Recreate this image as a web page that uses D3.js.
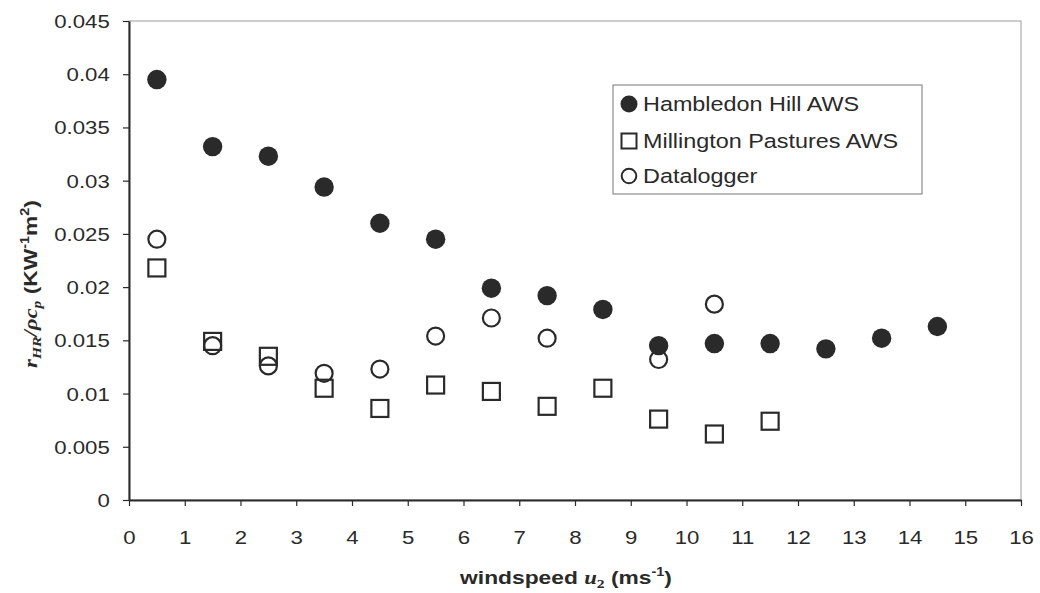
<!DOCTYPE html>
<html><head><meta charset="utf-8">
<script src="https://cdn.jsdelivr.net/npm/d3@7"></script>
<style>body{margin:0;background:#fff}svg{display:block}</style>
</head><body>
<svg id="c" width="1040" height="593"></svg>
<script>
const hambX = [0.5,1.5,2.5,3.5,4.5,5.5,6.5,7.5,8.5,9.5,10.5,11.5,12.5,13.5,14.5];
const hambY = [0.0395,0.0332,0.0323,0.0294,0.0260,0.0245,0.0199,0.0192,0.0179,0.0145,0.0147,0.0147,0.0142,0.0152,0.0163];
const millX = [0.5,1.5,2.5,3.5,4.5,5.5,6.5,7.5,8.5,9.5,10.5,11.5];
const millY = [0.0218,0.0149,0.0135,0.0105,0.0086,0.0108,0.0102,0.0088,0.0105,0.0076,0.0062,0.0074];
const dataX = [0.5,1.5,2.5,3.5,4.5,5.5,6.5,7.5,9.5,10.5];
const dataY = [0.0245,0.0145,0.0126,0.0119,0.0123,0.0154,0.0171,0.0152,0.0132,0.0184];
const xTicks = d3.range(0,17,1);
const yTicks = [0,0.005,0.01,0.015,0.02,0.025,0.03,0.035,0.04,0.045];
const legendNames = ["Hambledon Hill AWS","Millington Pastures AWS","Datalogger"];

const ink = "#2a2a2a";
const svg = d3.select("#c");
const L = 129, R = 1021, T = 21, B = 500;
const x = d3.scaleLinear().domain([0,16]).range([L,R]);
const y = d3.scaleLinear().domain([0,0.045]).range([B,T]);
const font = "'Liberation Sans', Arial, sans-serif";
const SX = 1.2;

// frame
svg.append("rect").attr("x",L).attr("y",T).attr("width",R-L).attr("height",B-T)
  .attr("fill","none").attr("stroke","#9a9a9a").attr("stroke-width",1);

const xa = svg.append("g").attr("transform",`translate(0,${B})`)
  .call(d3.axisBottom(x).tickValues(xTicks).tickFormat(d3.format("d")).tickSizeInner(6).tickSizeOuter(0).tickPadding(25));
const ya = svg.append("g").attr("transform",`translate(${L},0)`)
  .call(d3.axisLeft(y).tickValues(yTicks).tickFormat(d=>d===0?"0":String(+d.toFixed(3))).tickSizeInner(6).tickSizeOuter(0).tickPadding(10));
[xa,ya].forEach(a=>{
  a.selectAll("path").attr("stroke",ink).attr("stroke-width",2);
  a.selectAll("line").attr("stroke",ink).attr("stroke-width",1.2);
  a.selectAll("text").attr("font-family",font).attr("font-size",18.5).attr("fill",ink)
    .attr("transform",`scale(${SX},1)`);
});
ya.selectAll("text").attr("dy","0.35em");

// series
svg.append("g").selectAll("rect").data(millX).join("rect")
  .attr("x",(d)=>x(d)-8.5).attr("y",(d,i)=>y(millY[i])-8.5).attr("width",17).attr("height",17)
  .attr("fill","none").attr("stroke",ink).attr("stroke-width",2.2);
svg.append("g").selectAll("circle").data(dataX).join("circle")
  .attr("cx",d=>x(d)).attr("cy",(d,i)=>y(dataY[i])).attr("r",8.5)
  .attr("fill","none").attr("stroke",ink).attr("stroke-width",2.2);
svg.append("g").selectAll("circle").data(hambX).join("circle")
  .attr("cx",d=>x(d)).attr("cy",(d,i)=>y(hambY[i])).attr("r",9.7)
  .attr("fill",ink);

// legend
const lg = svg.append("g");
lg.append("rect").attr("x",613).attr("y",85).attr("width",309).attr("height",109)
  .attr("fill","#fff").attr("stroke","#777").attr("stroke-width",1);
const ly = [104,141,176];
lg.append("circle").attr("cx",629).attr("cy",ly[0]).attr("r",8.5).attr("fill",ink);
lg.append("rect").attr("x",621.5).attr("y",ly[1]-7.5).attr("width",15).attr("height",15).attr("fill","none").attr("stroke",ink).attr("stroke-width",2);
lg.append("circle").attr("cx",629).attr("cy",ly[2]).attr("r",7.3).attr("fill","none").attr("stroke",ink).attr("stroke-width",2);
lg.selectAll("text").data(legendNames).join("text")
  .attr("transform",(d,i)=>`translate(643,${ly[i]}) scale(${SX},1)`).attr("dy","0.36em")
  .attr("font-family",font).attr("font-size",19.5).attr("fill",ink).text(d=>d);

// x title
const xt = svg.append("text").attr("transform",`translate(566,584) scale(${SX},1)`).attr("text-anchor","middle")
  .attr("font-family",font).attr("font-size",19).attr("font-weight","bold").attr("fill",ink);
xt.append("tspan").text("windspeed ");
xt.append("tspan").attr("font-family","'Liberation Serif', serif").attr("font-style","italic").text("u");
xt.append("tspan").attr("font-family","'Liberation Serif', serif").attr("font-size",13).attr("dy",4).text("2");
xt.append("tspan").attr("dy",-4).text(" (ms");
xt.append("tspan").attr("font-size",12).attr("dy",-8).text("-1");
xt.append("tspan").attr("dy",8).text(")");

// y title
const yt = svg.append("text").attr("transform",`translate(37,284) rotate(-90) scale(${SX},1)`).attr("text-anchor","middle")
  .attr("font-family",font).attr("font-size",19).attr("font-weight","bold").attr("fill",ink);
const ser = "'Liberation Serif', serif";
yt.append("tspan").attr("font-family",ser).attr("font-style","italic").text("r");
yt.append("tspan").attr("font-family",ser).attr("font-style","italic").attr("font-size",13).attr("dy",4).text("HR");
yt.append("tspan").attr("font-family",ser).attr("font-style","italic").attr("dy",-4).text("/ρc");
yt.append("tspan").attr("font-family",ser).attr("font-style","italic").attr("font-size",13).attr("dy",4).text("p");
yt.append("tspan").attr("dy",-4).text(" (KW");
yt.append("tspan").attr("font-size",12).attr("dy",-8).text("-1");
yt.append("tspan").attr("dy",8).text("m");
yt.append("tspan").attr("font-size",12).attr("dy",-8).text("2");
yt.append("tspan").attr("dy",8).text(")");
</script>
</body></html>
